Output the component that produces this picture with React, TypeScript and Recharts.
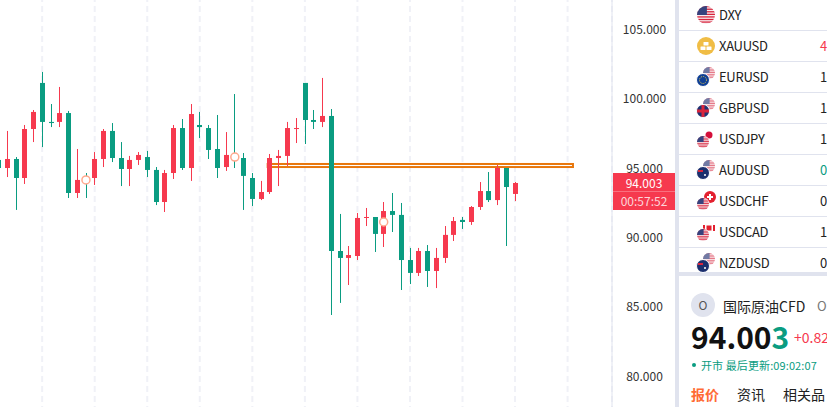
import React from "react";
import { ComposedChart, Bar, XAxis, YAxis, CartesianGrid, ReferenceArea, ReferenceDot } from "recharts";

const RED = "#f6394e";
const GREEN = "#0a9c81";
const AXIS = "#e0e3ee";

const opens = [95.6, 95.02, 95.67, 94.3, 97.83, 101.15, 98.34, 98.34, 98.98, 93.22, 94.23, 94.3, 95.67, 97.69, 95.74, 94.95, 95.6, 95.81, 94.88, 92.57, 94.66, 97.9, 95.02, 98.12, 97.9, 96.39, 95.09, 95.81, 95.74, 94.3, 92.79, 93.29, 95.74, 95.89, 97.83, 101.15, 98.48, 98.34, 98.77, 89.04, 88.54, 88.68, 91.42, 91.49, 90.27, 91.92, 91.64, 88.39, 87.46, 89.04, 87.6, 88.54, 90.2, 91.28, 91.13, 92.21, 93.36, 92.71, 95.02, 93.15];
const closes = [95.02, 95.67, 94.3, 97.83, 99.06, 98.34, 98.26, 98.98, 93.22, 94.16, 94.09, 95.67, 97.69, 95.74, 94.95, 95.6, 95.96, 94.88, 92.57, 94.66, 97.9, 95.02, 98.91, 97.97, 96.32, 95.02, 95.96, 95.74, 94.45, 92.79, 93.29, 95.74, 95.89, 97.9, 97.9, 98.48, 98.34, 98.77, 89.04, 88.54, 88.75, 91.42, 91.49, 90.27, 91.92, 91.64, 88.39, 87.46, 89.04, 87.6, 88.54, 90.2, 91.2, 91.13, 92.21, 93.36, 92.71, 95.02, 93.65, 93.94];
const highs = [95.74, 97.69, 95.81, 98.12, 99.2, 101.94, 99.63, 100.86, 99.13, 96.39, 94.66, 96.17, 97.83, 98.26, 96.89, 95.89, 96.17, 96.25, 95.09, 94.88, 98.12, 98.55, 99.63, 99.06, 98.12, 98.84, 97.61, 100.35, 96.1, 94.66, 94.09, 96.03, 96.32, 98.34, 98.62, 101.15, 99.2, 101.51, 99.27, 91.71, 89.4, 91.78, 92.14, 91.49, 92.57, 93.22, 92.5, 89.26, 89.26, 89.47, 89.26, 90.84, 91.49, 91.49, 92.28, 94.01, 94.73, 95.24, 95.02, 94.01];
const lows = [94.88, 94.37, 92.0, 93.87, 96.89, 96.53, 97.97, 97.97, 92.86, 92.86, 92.86, 93.8, 95.09, 95.45, 93.72, 93.72, 95.24, 94.37, 92.35, 91.85, 94.23, 94.88, 94.09, 97.18, 95.67, 94.3, 94.81, 95.02, 92.0, 92.28, 92.71, 93.15, 93.72, 95.17, 96.82, 96.75, 97.83, 97.97, 84.43, 85.3, 86.59, 88.39, 90.84, 88.97, 89.33, 90.41, 86.23, 86.66, 87.24, 86.45, 86.37, 88.18, 89.76, 90.63, 90.92, 92.0, 92.57, 92.35, 89.4, 92.64];

const priceTicks = [105, 100, 95, 90, 85, 80];
const gridCandles = [6, 12, 18, 24, 30, 36, 42, 48, 54, 60, 66];
const markerCandles = [11, 28, 45];
const markerPrices = [94.16, 95.81, 91.13];
const slotCount = 70;

const symbols = ["DXY", "XAUUSD", "EURUSD", "GBPUSD", "USDJPY", "AUDUSD", "USDCHF", "USDCAD", "NZDUSD"];
const quoteDigits = ["", "4", "1", "1", "1", "0", "0", "1", "0"];
const quoteColors = ["#222", RED, "#222", "#222", "#222", GREEN, "#222", "#222", "#222"];

const chartData = Array.from({ length: slotCount }, (_, i) => {
  const h = highs[i];
  return h === undefined
    ? { slot: i + 1, range: null }
    : { slot: i + 1, range: [lows[i], h], open: opens[i], close: closes[i], high: h, low: lows[i] };
});

function Candle(props: any) {
  const { x, y, width, height, payload } = props;
  if (!payload || payload.high === undefined) return null;
  const pxPerUnit = height / (payload.high - payload.low);
  const color = payload.close >= payload.open ? RED : GREEN;
  const top = y + (payload.high - Math.max(payload.open, payload.close)) * pxPerUnit;
  const bottom = y + (payload.high - Math.min(payload.open, payload.close)) * pxPerUnit;
  const cx = Math.floor(x + width / 2);
  return (
    <g>
      <rect x={cx} y={y} width={1} height={height} fill={color} />
      <rect x={cx - 2} y={top} width={5} height={Math.max(bottom - top, 1)} fill={color} />
    </g>
  );
}

// the drawn level starts just left of candle 32 and stops around the slot of candle 66
function LevelBox(props: any) {
  const { x, y, width, height } = props;
  return <rect x={x + 2.2} y={y} width={width - 1.2} height={height} fill="none" stroke="#e8770c" strokeWidth={2} />;
}

function USFlag({ cx, cy, r, faded }: { cx: number; cy: number; r: number; faded?: boolean }) {
  const id = `us${cx}${cy}`;
  const stripes = [];
  for (let i = 0; i < 7; i++) {
    stripes.push(<rect key={i} x={cx - r} y={cy - r + (i * 2 * r) / 7} width={2 * r} height={r / 7} fill="#d8243c" />);
  }
  return (
    <g opacity={faded ? 0.7 : 1}>
      <clipPath id={id}>
        <circle cx={cx} cy={cy} r={r} />
      </clipPath>
      <g clipPath={`url(#${id})`}>
        <rect x={cx - r} y={cy - r} width={2 * r} height={2 * r} fill="#f8eef0" />
        {stripes}
        <rect x={cx - r} y={cy - r} width={r * 1.1} height={r} fill="#36437e" />
      </g>
    </g>
  );
}

function Icon({ symbol, cy }: { symbol: string; cy: number }) {
  const cx = 706;
  const backX = cx + 3;
  const backY = cy - 4;
  const frontX = cx - 3;
  const frontY = cy + 3;
  if (symbol === "DXY") return <USFlag cx={cx} cy={cy} r={9} />;
  if (symbol === "XAUUSD")
    return (
      <g>
        <circle cx={cx} cy={cy} r={9} fill="#f0bd45" />
        <rect x={cx - 2.5} y={cy - 4} width={5} height={3.5} rx={0.5} fill="#fff" />
        <rect x={cx - 5.5} y={cy + 0.5} width={5} height={3.5} rx={0.5} fill="#fff" />
        <rect x={cx + 0.5} y={cy + 0.5} width={5} height={3.5} rx={0.5} fill="#fff" />
      </g>
    );
  if (symbol === "EURUSD")
    return (
      <g>
        <USFlag cx={backX} cy={backY} r={6} faded />
        <circle cx={frontX} cy={frontY} r={6.5} fill="#0f3f94" stroke="#fff" />
        <circle cx={frontX} cy={frontY} r={3.5} fill="none" stroke="#e8c84a" strokeWidth={1} strokeDasharray="1 1" />
      </g>
    );
  if (symbol === "GBPUSD")
    return (
      <g>
        <USFlag cx={backX} cy={backY} r={6} faded />
        <circle cx={frontX} cy={frontY} r={6.5} fill="#1f3272" stroke="#fff" />
        <rect x={frontX - 6} y={frontY - 1.5} width={12} height={3} fill="#d8243c" />
        <rect x={frontX - 1.5} y={frontY - 6} width={3} height={12} fill="#d8243c" />
      </g>
    );
  if (symbol === "AUDUSD" || symbol === "NZDUSD")
    return (
      <g>
        <USFlag cx={backX} cy={backY} r={6} faded />
        <circle cx={frontX} cy={frontY} r={6.5} fill="#1b2f6e" stroke="#fff" />
        <circle cx={frontX + 2} cy={frontY + 2} r={1} fill="#fff" />
        <rect x={frontX - 5} y={frontY - 3} width={5} height={2} fill="#d8243c" />
      </g>
    );
  return (
    <g>
      {symbol === "USDJPY" && <circle cx={backX} cy={backY} r={3.5} fill="#d40f3a" />}
      {symbol === "USDCHF" && (
        <g>
          <circle cx={backX + 1} cy={backY} r={6} fill="#e3202f" />
          <rect x={backX - 2} y={backY - 1} width={6} height={2} fill="#fff" />
          <rect x={backX} y={backY - 3} width={2} height={6} fill="#fff" />
        </g>
      )}
      {symbol === "USDCAD" && (
        <g>
          <rect x={backX - 6} y={backY - 3} width={2} height={6} fill="#e3202f" />
          <rect x={backX + 4} y={backY - 3} width={2} height={6} fill="#e3202f" />
          <rect x={backX - 2.5} y={backY - 2.5} width={5} height={5} fill="#e3202f" />
        </g>
      )}
      <circle cx={frontX} cy={frontY} r={6.5} fill="#fff" />
      <USFlag cx={frontX} cy={frontY} r={6} />
    </g>
  );
}

function abs(left: number, top: number, extra: React.CSSProperties = {}): React.CSSProperties {
  return { position: "absolute", left, top, whiteSpace: "nowrap", ...extra };
}

const FONT = '"Noto Sans CJK SC", "Noto Sans", sans-serif';

export default function App() {
  return (
    <div style={{ position: "fixed", left: 0, top: 0, width: 827, height: 407, overflow: "hidden", background: "#fff", fontFamily: FONT, color: "#222" }}>
      <div style={{ position: "absolute", left: -6, top: 0 }}>
        <ComposedChart width={681} height={407} data={chartData} margin={{ top: 0, right: 0, bottom: 0, left: 0 }} barSize={5}>
          <CartesianGrid horizontal={false} vertical stroke="#f0f1f7" strokeWidth={2} strokeDasharray="6 4" strokeDashoffset={4} />
          <XAxis dataKey="slot" hide ticks={gridCandles} interval={0} padding={{ left: 0, right: 5 }} />
          <YAxis
            orientation="right"
            width={63}
            domain={[77.8, 107.125]}
            allowDataOverflow
            ticks={priceTicks}
            interval={0}
            tickLine={false}
            axisLine={{ stroke: AXIS }}
            tickMargin={26.5}
            tickFormatter={(v: number) => v.toFixed(3)}
            tick={{ fill: "#333", fontSize: 12, textAnchor: "middle", fontFamily: FONT }}
          />
          <Bar dataKey="range" shape={Candle} isAnimationActive={false} />
          <ReferenceArea x1={32} x2={66} y1={95.31} y2={95.09} shape={LevelBox} ifOverflow="visible" />
          {markerCandles.map((c, i) => (
            <ReferenceDot key={c} x={c} y={markerPrices[i]} r={4} fill="#fff" stroke="#ffa98e" strokeWidth={1.5} />
          ))}
        </ComposedChart>
      </div>

      <div style={abs(613, 173, { width: 62, height: 37, background: RED, boxSizing: "border-box" })} />
      <div style={abs(613, 191, { width: 62, height: 1, background: "#f9707f" })} />
      <div style={abs(613, 175, { width: 62, textAlign: "center", fontSize: 12, lineHeight: "16px", color: "#fff" })}>94.003</div>
      <div style={abs(613, 193, { width: 62, textAlign: "center", fontSize: 12, lineHeight: "16px", color: "#fdd5da" })}>00:57:52</div>

      <div style={abs(675, 0, { width: 4, height: 407, background: AXIS })} />
      <div style={abs(675, 272, { width: 152, height: 4, background: AXIS })} />

      {symbols.map((s, i) => {
        const cy = 15 + i * 31;
        return (
          <React.Fragment key={s}>
            {i < 8 && <div style={abs(679, cy + 15, { width: 148, height: 1, background: AXIS })} />}
            <div style={abs(719, cy - 9, { fontSize: 13, lineHeight: "18px", letterSpacing: -0.3 })}>{s}</div>
            <div style={abs(820, cy - 9, { fontSize: 13, lineHeight: "18px", color: quoteColors[i] })}>{quoteDigits[i]}</div>
          </React.Fragment>
        );
      })}
      <svg style={abs(0, 0)} width={827} height={407}>
        {symbols.map((s, i) => (
          <Icon key={s} symbol={s} cy={15 + i * 31} />
        ))}
        <circle cx={703} cy={305} r={12} fill={AXIS} />
        <circle cx={694} cy={365} r={2} fill={GREEN} />
      </svg>

      <div style={abs(691, 296, { width: 24, textAlign: "center", fontSize: 12, lineHeight: "18px", color: "#555" })}>O</div>
      <div style={abs(723, 296, { fontSize: 14, lineHeight: "20px" })}>国际原油CFD</div>
      <div style={abs(817, 296, { fontSize: 13, lineHeight: "20px", color: "#777" })}>O</div>
      <div style={abs(691, 319, { fontSize: 30, lineHeight: "34px", fontWeight: 700, color: "#111" })}>
        94.00<span style={{ color: GREEN }}>3</span>
      </div>
      <div style={abs(794, 327, { fontSize: 14, lineHeight: "20px", color: RED })}>+0.82</div>
      <div style={abs(701, 358, { fontSize: 11, lineHeight: "15px", color: GREEN, letterSpacing: 0.1 })}>开市 最后更新:09:02:07</div>
      <div style={abs(691, 384, { fontSize: 14, lineHeight: "20px", fontWeight: 700, color: "#ff6b35" })}>报价</div>
      <div style={abs(737, 384, { fontSize: 14, lineHeight: "20px" })}>资讯</div>
      <div style={abs(783, 384, { fontSize: 14, lineHeight: "20px" })}>相关品</div>
    </div>
  );
}
